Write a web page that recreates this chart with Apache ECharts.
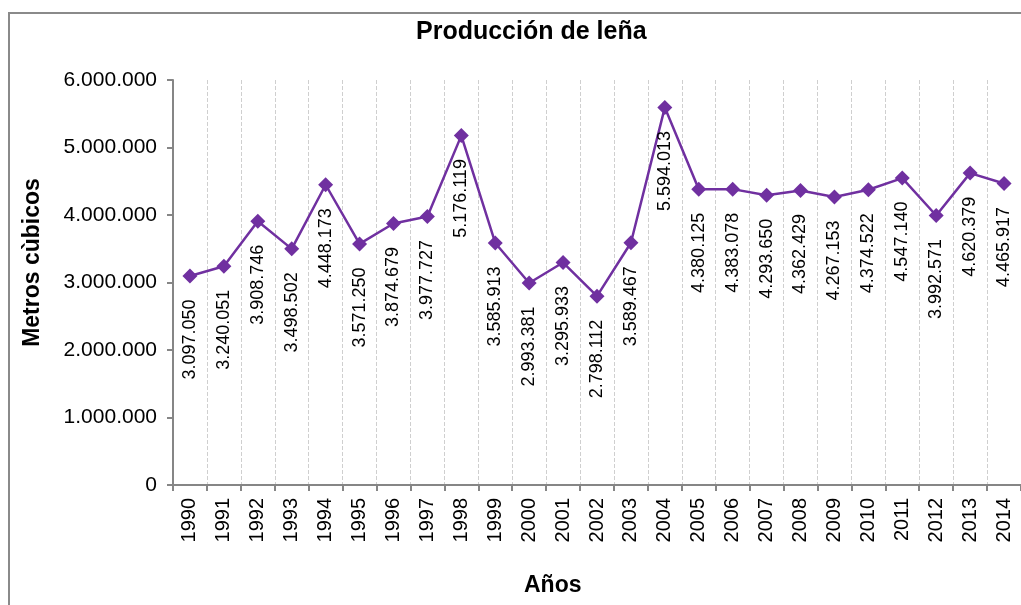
<!DOCTYPE html>
<html lang="es">
<head>
    <meta charset="UTF-8">
    <title>Producción de leña</title>
    <script src="https://cdn.jsdelivr.net/npm/echarts@6/dist/echarts.min.js"></script>
    <style>
        html, body { margin: 0; padding: 0; background: #fff; }
        #main { width: 1021px; height: 605px; }
    </style>
</head>
<body>
<div id="main"></div>
<script type="text/javascript">
    // años
    var years = ['1990', '1991', '1992', '1993', '1994', '1995', '1996', '1997', '1998', '1999',
        '2000', '2001', '2002', '2003', '2004', '2005', '2006', '2007', '2008', '2009',
        '2010', '2011', '2012', '2013', '2014'];
    // producción en metros cúbicos
    var produccion = [3097050, 3240051, 3908746, 3498502, 4448173, 3571250, 3874679, 3977727, 5176119, 3585913,
        2993381, 3295933, 2798112, 3589467, 5594013, 4380125, 4383078, 4293650, 4362429, 4267153,
        4374522, 4547140, 3992571, 4620379, 4465917];

    // separador de miles con punto
    function fmt(v) {
        return String(Math.round(v)).replace(/\B(?=(\d{3})+(?!\d))/g, '.');
    }

    var myChart = echarts.init(document.getElementById('main'));

    var font = 'Liberation Sans, Arial, sans-serif';

    var option = {
        backgroundColor: '#fff',
        animation: false,
        textStyle: { fontFamily: font },
        title: [{
            text: 'Producción de leña',
            left: 411,
            top: 15,
            textStyle: { fontSize: 25, fontWeight: 'bold', color: '#000', fontFamily: font }
        }, {
            text: 'Años',
            left: 519,
            top: 569,
            textStyle: { fontSize: 23, fontWeight: 'bold', color: '#000', fontFamily: font }
        }],
        graphic: [{
            type: 'rect',
            z: -10,
            silent: true,
            shape: { x: 9, y: 13, width: 1100, height: 700 },
            style: { fill: 'none', stroke: '#8a8a8a', lineWidth: 2 }
        }],
        grid: {
            left: 173,
            right: 0,
            top: 80,
            bottom: 120
        },
        xAxis: {
            type: 'category',
            data: years,
            boundaryGap: true,
            axisLine: { lineStyle: { color: '#868686', width: 2 } },
            axisTick: { show: true, length: 6, lineStyle: { color: '#868686', width: 2 } },
            axisLabel: {
                rotate: 90,
                margin: 13,
                interval: 0,
                color: '#000',
                fontSize: 20,
                fontFamily: font
            },
            splitLine: {
                show: true,
                lineStyle: { color: '#cfcfcf', type: 'dashed', width: 1 }
            }
        },
        yAxis: {
            type: 'value',
            min: 0,
            max: 6000000,
            interval: 1000000,
            name: 'Metros cùbicos',
            nameLocation: 'middle',
            nameGap: 129,
            nameTextStyle: { fontSize: 23, fontWeight: 'bold', color: '#000', fontFamily: font, padding: [0, 0, 0, 40] },
            axisLine: { show: true, lineStyle: { color: '#868686', width: 2 } },
            axisTick: { show: true, length: 6, lineStyle: { color: '#868686', width: 2 } },
            axisLabel: {
                margin: 16,
                color: '#000',
                fontSize: 21,
                fontFamily: font,
                formatter: function (v) { return fmt(v); }
            },
            splitLine: { show: false }
        },
        series: [{
            name: 'Producción',
            type: 'line',
            data: produccion,
            symbol: 'diamond',
            symbolSize: 15,
            lineStyle: { color: '#7030a0', width: 2.5 },
            itemStyle: { color: '#7030a0' },
            label: {
                show: true,
                position: 'bottom',
                rotate: 90,
                align: 'right',
                verticalAlign: 'middle',
                distance: 16,
                color: '#000',
                fontSize: 18,
                fontFamily: font,
                formatter: function (p) { return fmt(p.value); }
            }
        }]
    };

    myChart.setOption(option);
</script>
</body>
</html>
